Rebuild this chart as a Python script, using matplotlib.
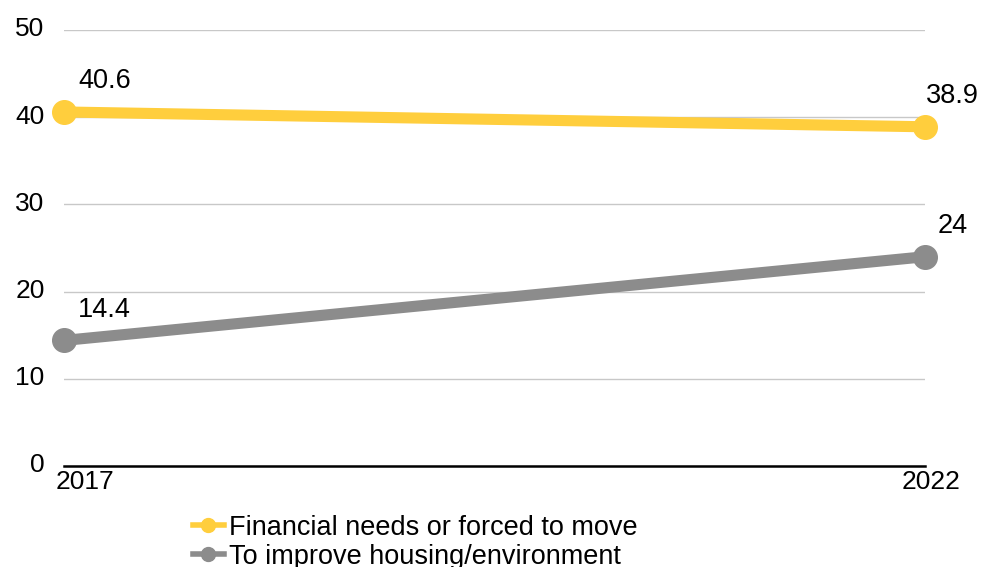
import matplotlib
matplotlib.use("Agg")
import matplotlib.pyplot as plt
import matplotlib.transforms as mtransforms

# Data
years = ["2017", "2022"]
financial = [40.6, 38.9]
improve = [14.4, 24]
series_names = ["Financial needs or forced to move", "To improve housing/environment"]
y_ticks = [0, 10, 20, 30, 40, 50]

YELLOW = "#FFCE3D"
GREY = "#8C8C8C"

plt.rcParams["font.family"] = ["Liberation Sans", "DejaVu Sans"]

fig = plt.figure(figsize=(9.92, 5.67), dpi=100)
ax = fig.add_axes([64 / 992, 1 - 466 / 567, (925 - 64) / 992, (466 - 30) / 567])

x = list(range(len(years)))
lines = []
for vals, col, name in [(financial, YELLOW, series_names[0]), (improve, GREY, series_names[1])]:
    ln, = ax.plot(x, vals, color=col, lw=8, marker="o", markersize=17,
                  solid_capstyle="butt", clip_on=False, zorder=3, label=name)
    lines.append(ln)
    # value labels
    ax.annotate(f"{vals[0]:g}", (x[0], vals[0]), xytext=(10, 22), textcoords="offset points",
                ha="left", va="center", fontsize=19.5)
    ax.annotate(f"{vals[-1]:g}", (x[-1], vals[-1]), xytext=(20, 22), textcoords="offset points",
                ha="center", va="center", fontsize=19.5)

ax.set_xlim(0, 1)
ax.set_ylim(0, 50)
ax.set_yticks(y_ticks)
ax.set_xticks(x)
ax.set_xticklabels(years)
ax.tick_params(axis="both", length=0, labelsize=19)
ax.tick_params(axis="y", pad=14)
ax.tick_params(axis="x", pad=3)

# year labels are nudged right like the reference
for t, dx in zip(ax.get_xticklabels(), [21, 6]):
    t.set_transform(t.get_transform() + mtransforms.ScaledTranslation(dx / 100, 0, fig.dpi_scale_trans))
# y labels sit a little above their gridlines
up = mtransforms.ScaledTranslation(0, 3 / 100, fig.dpi_scale_trans)
for t in ax.get_yticklabels():
    t.set_transform(t.get_transform() + up)

ax.grid(axis="y", color="#C8C8C8", lw=1)
ax.set_axisbelow(True)
for side in ["top", "right", "left"]:
    ax.spines[side].set_visible(False)
ax.spines["bottom"].set_color("black")
ax.spines["bottom"].set_linewidth(1.8)
ax.spines["bottom"].set_zorder(4)

leg_handles = []
for ln in lines:
    h, = ax.plot([], [], color=ln.get_color(), lw=4, marker="o", markersize=10)
    leg_handles.append(h)
fig.legend(leg_handles, series_names, loc="upper left",
           bbox_to_anchor=(182 / 992, 1 - 504 / 567), frameon=False, fontsize=19.5,
           handlelength=1.15, handletextpad=0.2, labelspacing=0.1, borderaxespad=0)

fig.savefig("out.png", dpi=100)
